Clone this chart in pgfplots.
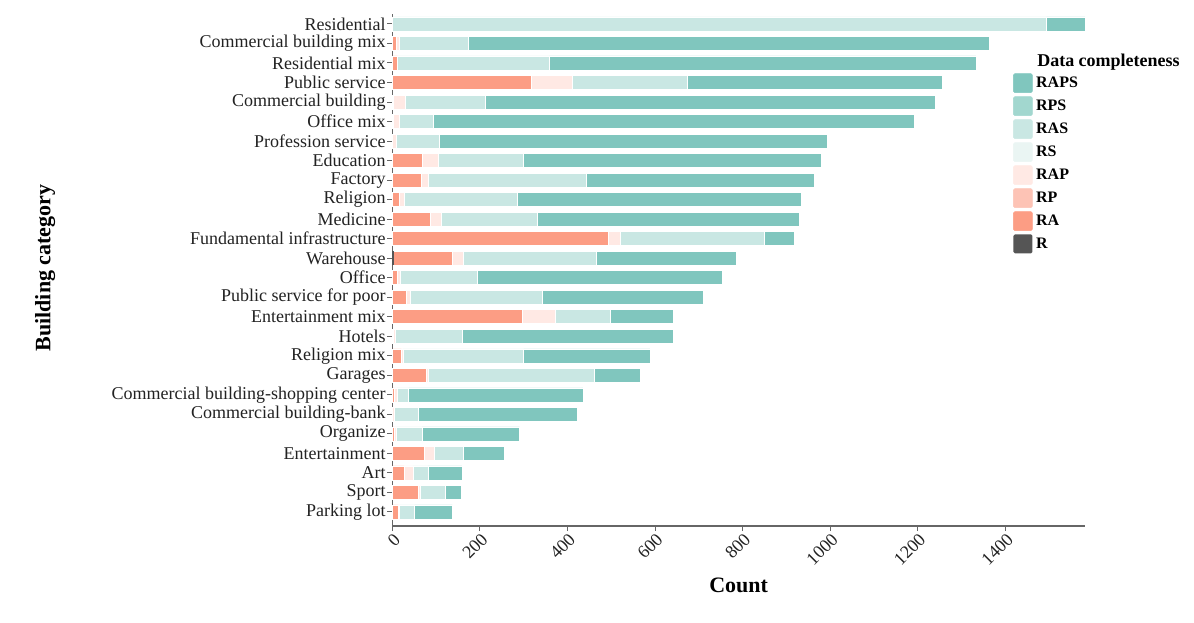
\documentclass[border=0pt]{standalone}
\usepackage{fontspec}
\setmainfont{Liberation Serif}
\usepackage{pgfplots}
\pgfplotsset{compat=1.18}

\definecolor{rapsc}{HTML}{80C6BE}
\definecolor{rpsc}{HTML}{A2D7CF}
\definecolor{rasc}{HTML}{C9E7E3}
\definecolor{rsc}{HTML}{EAF5F3}
\definecolor{rapc}{HTML}{FFE9E4}
\definecolor{rpc}{HTML}{FDC3B5}
\definecolor{rac}{HTML}{FC9D84}
\definecolor{rc}{HTML}{555555}
\definecolor{axgray}{HTML}{666666}
\definecolor{txt}{HTML}{222222}

\pgfplotsset{sq/.style={fill=#1, draw=white, line width=0.5pt,
  legend image code/.code={\fill[#1,rounded corners=1.5pt] (0pt,-9.5pt) rectangle (19pt,9.5pt);}}}

\newcommand\tl{\fontsize{18}{18}\selectfont}
\newcommand\legtxt[1]{\bfseries\fontsize{16}{18}\selectfont #1}

\begin{document}
\begin{tikzpicture}
\useasboundingbox (0,0) rectangle (1194pt,622pt);
\begin{axis}[
    at={(392.3pt,96pt)}, anchor=south west,
    scale only axis,
    width=692.7pt, height=512pt,
    xbar stacked,
    bar width=14pt,
    xmin=0, xmax=1582,
    ymin=-0.72, ymax=25.51,
    axis x line*=bottom, axis y line*=left,
    axis line style={axgray, line width=1.1pt, -},
    tick style={axgray, line width=1pt},
    major tick length=5pt,
    tick align=outside,
    xtick={0,200,...,1400},
    ytick={0,...,25},
    yticklabels={Parking lot,Sport,Art,Entertainment,Organize,Commercial building-bank,Commercial building-shopping center,Garages,Religion mix,Hotels,Entertainment mix,Public service for poor,Office,Warehouse,Fundamental infrastructure,Medicine,Religion,Factory,Education,Profession service,Office mix,Commercial building,Public service,Residential mix,Commercial building mix,Residential},
    yticklabel style={font=\tl, text=txt, inner sep=0.3pt, xshift=-1.2pt},
    xticklabel style={font=\tl, text=txt, rotate=45, anchor=north east, inner sep=0.5pt, yshift=-0.5pt},
    /pgf/number format/assume math mode=true,
    /pgf/number format/1000 sep={},
    scaled x ticks=false,
    xlabel={\textbf{Count}},
    xlabel style={font=\fontsize{22}{26}\selectfont, at={(axis description cs:0.5,-0.115)}, anchor=center},
    ylabel={\textbf{Building category}},
    ylabel style={font=\fontsize{22}{26}\selectfont, at={(axis description cs:-0.501,0.504)}, anchor=center},
    clip=false,
    reverse legend,
    legend cell align=left,
    legend style={at={(0.896,0.8844)}, anchor=north west, draw=none, fill=none,
      inner sep=0pt, row sep=3.5pt, nodes={inner sep=3.5pt}},
  ]
  % R
  \addplot[sq=rc, draw=none] coordinates {
    (0,25) (0,24) (0,23) (0,22) (0,21) (0,20) (0,19) (0,18) (0,17) (0,16) (0,15) (0,14) (3,13)
    (0,12) (0,11) (0,10) (0,9) (0,8) (0,7) (0,6) (0,5) (0,4) (0,3) (0,2) (0,1) (0,0)};
  \addlegendentry{\legtxt{R}}
  % RA
  \addplot[sq=rac] coordinates {
    (0,25) (8,24) (12,23) (317,22) (2,21) (2,20) (0,19) (69,18) (65,17) (16,16) (86,15) (494,14) (135,13)
    (11,12) (33,11) (297,10) (2,9) (21,8) (77,7) (4,6) (1,5) (5,4) (72,3) (27,2) (59,1) (14,0)};
  \addlegendentry{\legtxt{RA}}
  \addlegendimage{sq=rpc}
  \addlegendentry{\legtxt{RP}}
  % RAP
  \addplot[sq=rapc] coordinates {
    (0,25) (9,24) (0,23) (93,22) (27,21) (15,20) (8,19) (36,18) (18,17) (11,16) (26,15) (27,14) (24,13)
    (8,12) (7,11) (75,10) (5,9) (4,8) (4,7) (7,6) (4,5) (3,4) (24,3) (20,2) (4,1) (3,0)};
  \addlegendentry{\legtxt{RAP}}
  \addlegendimage{sq=rsc}
  \addlegendentry{\legtxt{RS}}
  % RAS
  \addplot[sq=rasc] coordinates {
    (1494,25) (156,24) (347,23) (263,22) (183,21) (76,20) (99,19) (193,18) (361,17) (258,16) (218,15) (328,14) (304,13)
    (176,12) (302,11) (126,10) (152,9) (275,8) (381,7) (26,6) (55,5) (60,4) (65,3) (34,2) (58,1) (34,0)};
  \addlegendentry{\legtxt{RAS}}
  \addlegendimage{sq=rpsc}
  \addlegendentry{\legtxt{RPS}}
  % RAPS
  \addplot[sq=rapsc] coordinates {
    (88,25) (1190,24) (974,23) (583,22) (1028,21) (1100,20) (886,19) (681,18) (520,17) (650,16) (599,15) (70,14) (319,13)
    (558,12) (368,11) (144,10) (482,9) (288,8) (104,7) (398,6) (362,5) (223,4) (95,3) (78,2) (37,1) (86,0)};
  \addlegendentry{\legtxt{RAPS}}
  \node[anchor=base west, font=\bfseries\fontsize{18}{21}\selectfont] at (axis description cs:0.926,0.8984) {Data completeness};
\end{axis}
\end{tikzpicture}
\end{document}
